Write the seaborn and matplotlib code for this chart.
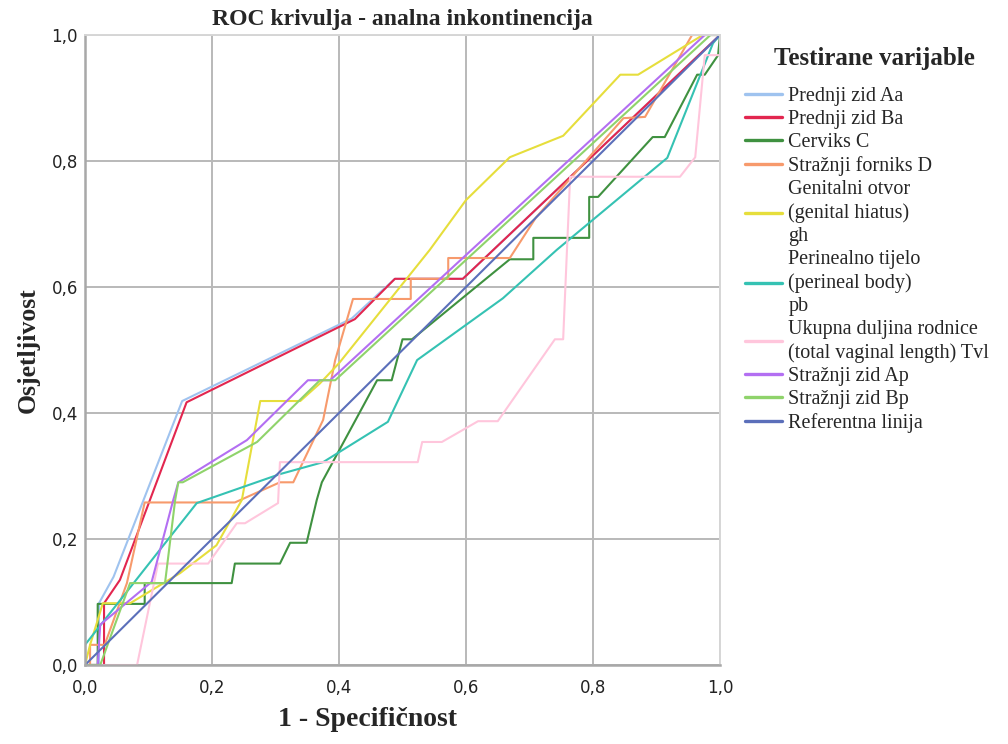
import matplotlib
matplotlib.use("Agg")
import matplotlib.pyplot as plt
import seaborn as sns
import pandas as pd

# ---- data ----
series_names = [
    "Prednji zid Aa",
    "Prednji zid Ba",
    "Cerviks C",
    "Stražnji forniks D",
    "Genitalni otvor\n(genital hiatus)\ngh",
    "Perinealno tijelo\n(perineal body)\npb",
    "Ukupna duljina rodnice\n(total vaginal length) Tvl",
    "Stražnji zid Ap",
    "Stražnji zid Bp",
    "Referentna linija",
]

Aa_x = [0, 0.022, 0.022, 0.045, 0.153, 0.42, 0.488, 0.595, 1.0]
Aa_y = [0, 0, 0.098, 0.14, 0.419, 0.55, 0.613, 0.613, 1.0]

Ba_x = [0, 0.03, 0.03, 0.055, 0.16, 0.425, 0.488, 0.595, 1.0]
Ba_y = [0, 0, 0.098, 0.135, 0.417, 0.549, 0.613, 0.613, 1.0]

C_x = [0, 0.02, 0.02, 0.094, 0.094, 0.231, 0.236, 0.307, 0.323, 0.349, 0.365, 0.373,
       0.46, 0.483, 0.50, 0.515, 0.669, 0.706, 0.706, 0.794, 0.794, 0.808, 0.894,
       0.913, 0.964, 0.976, 0.997, 1.0]
C_y = [0, 0, 0.097, 0.097, 0.13, 0.13, 0.161, 0.161, 0.194, 0.194, 0.262, 0.29,
       0.452, 0.452, 0.517, 0.517, 0.644, 0.644, 0.678, 0.678, 0.743, 0.743, 0.838,
       0.838, 0.937, 0.937, 0.968, 1.0]

D_x = [0, 0.008, 0.008, 0.031, 0.066, 0.094, 0.236, 0.307, 0.328, 0.375, 0.394, 0.422,
       0.513, 0.513, 0.572, 0.572, 0.669, 0.71, 0.848, 0.882, 0.956, 1.0]
D_y = [0, 0, 0.032, 0.032, 0.13, 0.258, 0.258, 0.29, 0.29, 0.389, 0.484, 0.581,
       0.581, 0.613, 0.613, 0.646, 0.646, 0.71, 0.868, 0.87, 1.0, 1.0]

gh_x = [0, 0.008, 0.019, 0.028, 0.071, 0.15, 0.207, 0.247, 0.276, 0.339, 0.37, 0.40,
        0.543, 0.6, 0.669, 0.753, 0.843, 0.871, 0.973, 1.0]
gh_y = [0, 0.032, 0.068, 0.098, 0.098, 0.146, 0.19, 0.262, 0.419, 0.419, 0.447, 0.479,
        0.659, 0.738, 0.806, 0.84, 0.937, 0.937, 1.0, 1.0]

pb_x = [0, 0, 0.118, 0.176, 0.307, 0.375, 0.477, 0.523, 0.658, 0.743, 0.917, 0.989, 1.0]
pb_y = [0, 0.032, 0.183, 0.257, 0.303, 0.322, 0.386, 0.484, 0.582, 0.659, 0.805, 0.987, 1.0]

Tvl_x = [0, 0.082, 0.115, 0.194, 0.239, 0.252, 0.304, 0.307, 0.524, 0.531, 0.562, 0.619,
         0.65, 0.74, 0.753, 0.759, 0.764, 0.937, 0.961, 0.976, 1.0, 1.0]
Tvl_y = [0, 0, 0.161, 0.161, 0.225, 0.225, 0.257, 0.322, 0.322, 0.354, 0.354, 0.387,
         0.387, 0.517, 0.517, 0.659, 0.775, 0.775, 0.806, 0.968, 0.968, 1.0]

Ap_x = [0, 0.02, 0.024, 0.105, 0.139, 0.147, 0.255, 0.351, 0.386, 0.976, 1.0]
Ap_y = [0, 0, 0.064, 0.132, 0.262, 0.29, 0.357, 0.452, 0.452, 1.0, 1.0]

Bp_x = [0, 0.024, 0.071, 0.126, 0.142, 0.147, 0.154, 0.271, 0.37, 0.394, 0.985, 1.0]
Bp_y = [0, 0, 0.13, 0.13, 0.262, 0.29, 0.29, 0.354, 0.452, 0.452, 1.0, 1.0]

Ref_x = [0, 1]
Ref_y = [0, 1]

tick_values = [0.0, 0.2, 0.4, 0.6, 0.8, 1.0]
tick_labels = ["0,0", "0,2", "0,4", "0,6", "0,8", "1,0"]

colors = ["#9fc3ef", "#e2264f", "#3f9140", "#f79a6c", "#e6de3c",
          "#35c2b3", "#ffc6dc", "#b36ff2", "#8fd36b", "#5b6fba"]

xs = [Aa_x, Ba_x, C_x, D_x, gh_x, pb_x, Tvl_x, Ap_x, Bp_x, Ref_x]
ys = [Aa_y, Ba_y, C_y, D_y, gh_y, pb_y, Tvl_y, Ap_y, Bp_y, Ref_y]

# ---- plot ----
sns.set_style("white")
plt.rcParams["font.family"] = ["DejaVu Sans"]

fig = plt.figure(figsize=(10.08, 7.44), dpi=100)
ax = fig.add_axes([85 / 1008, 1 - 665 / 744, 635 / 1008, 630 / 744])

for name, x, y, c in zip(series_names, xs, ys, colors):
    df = pd.DataFrame({"x": x, "y": y})
    sns.lineplot(data=df, x="x", y="y", sort=False, estimator=None,
                 color=c, lw=1.5, label=name, ax=ax)

ax.set_xlim(0, 1)
ax.set_ylim(0, 1)
ax.set_xticks(tick_values)
ax.set_yticks(tick_values)
ax.set_xticklabels(tick_labels, fontsize=12, color="#222222")
ax.set_yticklabels(tick_labels, fontsize=12, color="#222222")
ax.tick_params(axis="x", length=0, pad=10)
ax.tick_params(axis="y", length=0, pad=5)
ax.grid(True, color="#b9b9b9", lw=1.4)
ax.set_axisbelow(True)
for side in ["left", "bottom"]:
    ax.spines[side].set_color("#a8a8a8")
    ax.spines[side].set_linewidth(1.8)
for side in ["top", "right"]:
    ax.spines[side].set_color("#d6d6d6")
    ax.spines[side].set_linewidth(1.4)

serif = ["Liberation Serif", "DejaVu Serif"]
ax.set_title("ROC krivulja - analna inkontinencija", family=serif,
             fontweight="bold", fontsize=17, pad=7)
ax.set_xlabel("1 - Specifičnost", family=serif, fontweight="bold", fontsize=20)
ax.set_ylabel("Osjetljivost", family=serif, fontweight="bold", fontsize=18.5)
ax.xaxis.set_label_coords(368 / 1008, 1 - 720 / 744, transform=fig.transFigure)
ax.yaxis.set_label_coords(28 / 1008, 1 - 350 / 744, transform=fig.transFigure)
ax.xaxis.label.set_va("center")
ax.yaxis.label.set_va("center")

fig.text(874 / 1008, 1 - 59 / 744, "Testirane varijable", family=serif,
         fontweight="bold", fontsize=18, ha="center", va="center")

leg = ax.legend(loc="upper left", bbox_to_anchor=(745 / 1008, 1 - 87 / 744),
                bbox_transform=fig.transFigure, frameon=False,
                prop={"family": serif, "size": 14.5}, handlelength=1.85,
                handletextpad=0.3, labelspacing=0.2, borderpad=0,
                borderaxespad=0)
for t in leg.get_texts():
    t.set_linespacing(1.28)
for line in leg.get_lines():
    line.set_linewidth(2.4)

fig.savefig("out.png", dpi=100)
